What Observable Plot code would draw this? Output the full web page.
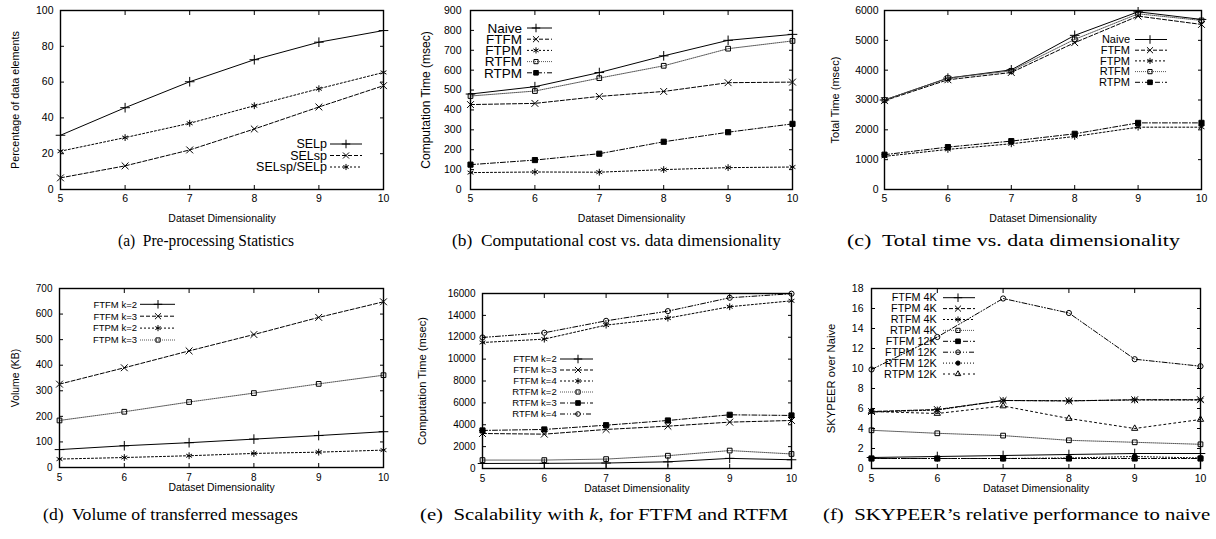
<!DOCTYPE html>
<html><head><meta charset="utf-8">
<script src="https://cdn.jsdelivr.net/npm/d3@7"></script>
<script src="https://cdn.jsdelivr.net/npm/@observablehq/plot@0.6"></script>
<style>
html,body{margin:0;padding:0;background:#fff}
body{width:1216px;height:539px;position:relative;overflow:hidden;font-family:"Liberation Sans",Arial,sans-serif}
.panel{position:absolute}
.cap{position:absolute;font-family:"Liberation Serif","Times New Roman",serif;font-size:17px;white-space:pre;line-height:20px;color:#000;transform-origin:0 50%}
</style></head><body>
<script>
// ---------- data ----------
const dims = [5, 6, 7, 8, 9, 10];
const xTitle = "Dataset Dimensionality";

// (a) Pre-processing statistics
const aNames = ["SELp", "SELsp", "SELsp/SELp"];
const aSELp = [30.3, 45.7, 60.2, 72.5, 82.3, 88.8];
const aSELsp = [6.5, 13.2, 22.1, 33.8, 46.1, 58];
const aRatio = [21.4, 29, 37, 46.8, 56.3, 65.4];
const aTicks = [0, 20, 40, 60, 80, 100];

// (b) Computation time
const bNames = ["Naive", "FTFM", "FTPM", "RTFM", "RTPM"];
const bNaive = [480, 517, 588, 672, 750, 780];
const bFTFM = [427, 433, 468, 493, 537, 540];
const bFTPM = [85, 88, 87, 100, 110, 113];
const bRTFM = [470, 495, 560, 622, 708, 747];
const bRTPM = [125, 148, 180, 240, 288, 330];
const bTicks = [0, 100, 200, 300, 400, 500, 600, 700, 800, 900];

// (c) Total time
const cNames = ["Naive", "FTFM", "FTPM", "RTFM", "RTPM"];
const cNaive = [3000, 3733, 4011, 5167, 5956, 5700];
const cFTFM = [2978, 3678, 3922, 4922, 5811, 5533];
const cFTPM = [1111, 1344, 1533, 1778, 2089, 2089];
const cRTFM = [3000, 3733, 3978, 5033, 5889, 5667];
const cRTPM = [1167, 1422, 1622, 1867, 2233, 2233];
const cTicks = [0, 1000, 2000, 3000, 4000, 5000, 6000];

// (d) Volume
const dNames = ["FTFM k=2", "FTFM k=3", "FTPM k=2", "FTPM k=3"];
const dFTFMk2 = [70, 85, 97, 111, 125, 140];
const dFTFMk3 = [326, 390, 456, 520, 587, 648];
const dFTPMk2 = [33, 39, 46, 55, 60, 68];
const dFTPMk3 = [184, 218, 256, 291, 327, 361];
const dTicks = [0, 100, 200, 300, 400, 500, 600, 700];

// (e) Scalability with k
const eNames = ["FTFM k=2", "FTFM k=3", "FTFM k=4", "RTFM k=2", "RTFM k=3", "RTFM k=4"];
const eFTFMk2 = [460, 470, 500, 610, 925, 800];
const eFTFMk3 = [3200, 3140, 3570, 3870, 4240, 4390];
const eFTFMk4 = [11520, 11830, 13110, 13750, 14790, 15330];
const eRTFMk2 = [770, 770, 860, 1170, 1640, 1330];
const eRTFMk3 = [3480, 3570, 3960, 4390, 4910, 4850];
const eRTFMk4 = [11980, 12410, 13500, 14390, 15610, 15980];
const eTicks = [0, 2000, 4000, 6000, 8000, 10000, 12000, 14000, 16000];

// (f) Relative performance
const fNames = ["FTFM 4K", "FTPM 4K", "RTFM 4K", "RTPM 4K", "FTFM 12K", "FTPM 12K", "RTFM 12K", "RTPM 12K"];
const fFTFM4 = [1.1, 1.2, 1.3, 1.4, 1.5, 1.5];
const fFTPM4 = [5.7, 5.9, 6.8, 6.75, 6.88, 6.88];
const fRTFM4 = [5.65, 5.85, 6.8, 6.78, 6.85, 6.85];
const fRTPM4 = [3.82, 3.52, 3.29, 2.82, 2.62, 2.42];
const fFTFM12 = [1, 1, 1, 1, 1, 1];
const fFTPM12 = [9.9, 13.15, 17.0, 15.55, 10.93, 10.23];
const fRTFM12 = [1, 1, 1, 1.05, 1.2, 1.05];
const fRTPM12 = [5.7, 5.5, 6.25, 5.0, 4.0, 4.9];
const fTicks = [0, 2, 4, 6, 8, 10, 12, 14, 16, 18];

const captions = [
  "(a)  Pre-processing Statistics",
  "(b)  Computational cost vs. data dimensionality",
  "(c)  Total time vs. data dimensionality",
  "(d)  Volume of transferred messages",
  "(e)  Scalability with <i>k</i>, for FTFM and RTFM",
  "(f)  SKYPEER\u2019s relative performance to naive"
];

// ---------- styles (gnuplot-like line types) ----------
const LT = [
  {dash: null, sym: "plus", fill: "none", line: "#000", r: 3.2},
  {dash: "4,2", sym: "times", fill: "none", line: "#000", r: 3.2},
  {dash: "2,2", sym: "asterisk", fill: "none", line: "#000", r: 3.2},
  {dash: "1,1", sym: "square2", fill: "none", line: "#555", r: 3.0},
  {dash: "5,2,1,2", sym: "square", fill: "#000", line: "#000", r: 2.9},
  {dash: "5,2,1,2,1,2", sym: "circle", fill: "none", line: "#000", r: 2.6},
  {dash: "1,2", sym: "circle", fill: "#000", line: "#000", r: 2.4},
  {dash: "2,3", sym: "triangle2", fill: "none", line: "#000", r: 3.0}
];
const d3Sym = {plus: d3.symbolPlus, times: d3.symbolTimes, asterisk: d3.symbolAsterisk,
  square2: d3.symbolSquare2, square: d3.symbolSquare, circle: d3.symbolCircle, triangle2: d3.symbolTriangle2};

const FONT = "'Liberation Sans', Arial, Helvetica, sans-serif";
const fmt = d3.format("d");
const blank = () => "";

function makePanel(cfg) {
  const marks = [];
  cfg.series.forEach((vals, i) => {
    const st = LT[i];
    const data = dims.map((d, j) => ({x: d, y: vals[j]}));
    marks.push(Plot.line(data, {x: "x", y: "y", stroke: st.line, strokeWidth: 1, strokeDasharray: st.dash}));
    marks.push(Plot.dot(data, {x: "x", y: "y", symbol: st.sym, r: st.r, stroke: "#000", fill: st.fill, strokeWidth: 1}));
  });
  const T = 4; // inward tick length
  const svg = Plot.plot({
    width: cfg.w, height: cfg.h,
    marginLeft: cfg.ml, marginRight: cfg.mr, marginTop: cfg.mt, marginBottom: cfg.mb,
    style: {fontFamily: FONT, color: "#000", background: "transparent", overflow: "visible"},
    x: {domain: [5, 10], label: null},
    y: {domain: cfg.yDomain, label: null},
    marks: [
      Plot.axisX({ticks: dims, tickSize: 0, tickPadding: cfg.xPad, tickFormat: fmt, fontSize: cfg.tickFont, label: null}),
      Plot.axisX({ticks: dims, tickSize: T, dy: -T, tickFormat: blank, label: null}),
      Plot.axisX({anchor: "top", ticks: dims, tickSize: T, dy: T, tickFormat: blank, label: null}),
      Plot.axisY({ticks: cfg.yTicks, tickSize: 0, tickPadding: cfg.yPad, tickFormat: fmt, fontSize: cfg.tickFont, label: null}),
      Plot.axisY({ticks: cfg.yTicks, tickSize: T, dx: T, tickFormat: blank, label: null}),
      Plot.axisY({anchor: "right", ticks: cfg.yTicks, tickSize: T, dx: -T, tickFormat: blank, label: null}),
      Plot.axisX({ticks: [], tickSize: 0, label: xTitle, labelAnchor: "center", labelArrow: "none", labelOffset: cfg.xTitleOffset, fontSize: cfg.xTitleFont}),
      Plot.axisY({ticks: [], tickSize: 0, label: cfg.yTitle, labelAnchor: "center", labelArrow: "none", labelOffset: cfg.yTitleOffset, fontSize: cfg.yTitleFont}),
      ...marks,
      Plot.frame({stroke: "#000", strokeWidth: 1.4})
    ]
  });
  // gnuplot-style key
  const lg = cfg.legend;
  const g = d3.select(svg).append("g").attr("font-family", FONT).attr("font-size", lg.font);
  cfg.names.forEach((n, i) => {
    const st = LT[i];
    const y = lg.y0 + i * lg.step;
    g.append("text").attr("x", lg.tx).attr("y", y).attr("dy", "0.35em").attr("text-anchor", "end").attr("fill", "#000").text(n);
    g.append("line").attr("x1", lg.x1).attr("x2", lg.x2).attr("y1", y).attr("y2", y)
      .attr("stroke", st.line).attr("stroke-width", 1).attr("stroke-dasharray", st.dash);
    g.append("path").attr("transform", `translate(${lg.xm},${y})`)
      .attr("d", d3.symbol(d3Sym[st.sym], Math.PI * st.r * st.r * 0.8)())
      .attr("fill", st.fill).attr("stroke", "#000").attr("stroke-width", 1);
  });
  const div = document.createElement("div");
  div.className = "panel";
  div.style.left = cfg.left + "px";
  div.style.top = cfg.top + "px";
  div.appendChild(svg);
  document.body.appendChild(div);
}

const panels = [
  {left: 0, top: 0, w: 400, h: 230, ml: 60, mr: 17, mt: 10, mb: 41, yDomain: [0, 100], yTicks: aTicks,
   yTitle: "Percentage of data elements", tickFont: 10.5, xTitleFont: 10.5, yTitleFont: 10.8, xPad: 5, yPad: 7,
   xTitleOffset: 32, yTitleOffset: 49, names: aNames, series: [aSELp, aSELsp, aRatio],
   legend: {tx: 327, y0: 144, step: 11.5, x1: 330, x2: 362, xm: 346, font: 12.5}},
  {left: 405, top: 0, w: 400, h: 230, ml: 65, mr: 13, mt: 10, mb: 41, yDomain: [0, 900], yTicks: bTicks,
   yTitle: "Computation Time (msec)", tickFont: 10.5, xTitleFont: 10.5, yTitleFont: 12, xPad: 5, yPad: 9,
   xTitleOffset: 32, yTitleOffset: 49, names: bNames, series: [bNaive, bFTFM, bFTPM, bRTFM, bRTPM],
   legend: {tx: 117, y0: 28, step: 11.2, x1: 122, x2: 147, xm: 131, font: 13.5}},
  {left: 810, top: 0, w: 406, h: 230, ml: 74, mr: 15, mt: 10, mb: 41, yDomain: [0, 6000], yTicks: cTicks,
   yTitle: "Total Time (msec)", tickFont: 10.5, xTitleFont: 10.5, yTitleFont: 11, xPad: 5, yPad: 6,
   xTitleOffset: 32, yTitleOffset: 53, names: cNames, series: [cNaive, cFTFM, cFTPM, cRTFM, cRTPM],
   legend: {tx: 320, y0: 39.5, step: 10.7, x1: 325, x2: 357, xm: 340, font: 11}},
  {left: 0, top: 270, w: 400, h: 230, ml: 59, mr: 17, mt: 18, mb: 33, yDomain: [0, 700], yTicks: dTicks,
   yTitle: "Volume (KB)", tickFont: 10, xTitleFont: 10.4, yTitleFont: 10.4, xPad: 6, yPad: 7,
   xTitleOffset: 23, yTitleOffset: 48, names: dNames, series: [dFTFMk2, dFTFMk3, dFTPMk2, dFTPMk3],
   legend: {tx: 137, y0: 34.3, step: 11.9, x1: 140, x2: 175, xm: 158, font: 9.5}},
  {left: 405, top: 270, w: 400, h: 230, ml: 77, mr: 14, mt: 23, mb: 32, yDomain: [0, 16000], yTicks: eTicks,
   yTitle: "Computation Time (msec)", tickFont: 10, xTitleFont: 10.3, yTitleFont: 11.2, xPad: 6, yPad: 7,
   xTitleOffset: 23, yTitleOffset: 64, names: eNames, series: [eFTFMk2, eFTFMk3, eFTFMk4, eRTFMk2, eRTFMk3, eRTFMk4],
   legend: {tx: 151.7, y0: 89, step: 11, x1: 155, x2: 188, xm: 173, font: 9.5}},
  {left: 810, top: 270, w: 406, h: 230, ml: 61, mr: 16, mt: 18, mb: 32, yDomain: [0, 18], yTicks: fTicks,
   yTitle: "SKYPEER over Naive", tickFont: 10.5, xTitleFont: 10.4, yTitleFont: 11.2, xPad: 6, yPad: 8,
   xTitleOffset: 23, yTitleOffset: 44, names: fNames,
   series: [fFTFM4, fFTPM4, fRTFM4, fRTPM4, fFTFM12, fFTPM12, fRTFM12, fRTPM12],
   legend: {tx: 126.7, y0: 27.7, step: 10.9, x1: 133, x2: 165, xm: 148, font: 10.8}}
];
panels.forEach(makePanel);

// caption spans [left, right, top]
const capSpan = [[118, 294, 231], [452, 781, 231], [847, 1180, 231], [43, 298, 505], [420, 788, 505], [823, 1210, 505]];
captions.forEach((c, i) => {
  const d = document.createElement("div");
  d.className = "cap";
  d.style.left = capSpan[i][0] + "px";
  d.style.top = capSpan[i][2] + "px";
  d.innerHTML = c;
  document.body.appendChild(d);
  const w = d.getBoundingClientRect().width;
  const s = (capSpan[i][1] - capSpan[i][0]) / w;
  d.style.transform = `scaleX(${s.toFixed(3)})`;
});
</script>
</body></html>
